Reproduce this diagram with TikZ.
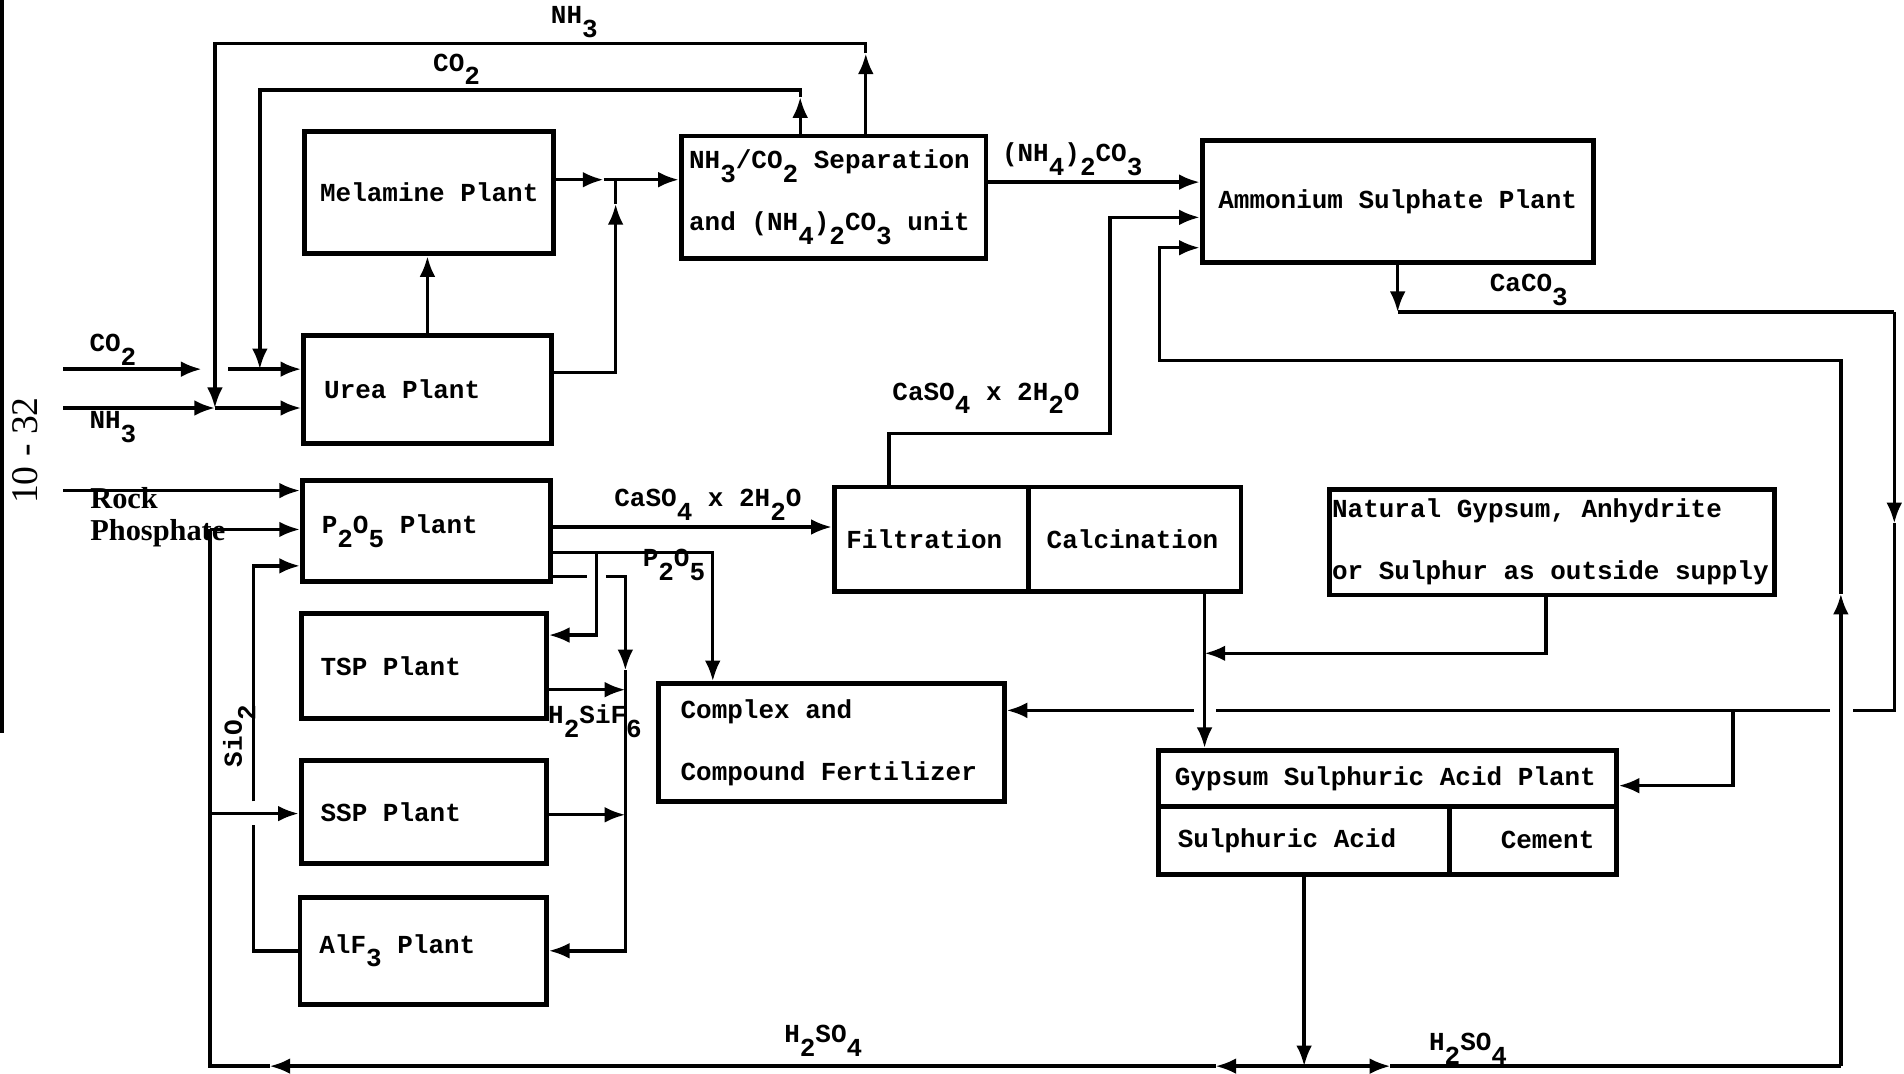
\documentclass[tikz,border=0pt]{standalone}
\usepackage{fontspec}
\setmainfont{Liberation Serif}
\setmonofont{Liberation Mono}
\usetikzlibrary{arrows.meta}
\newcommand{\subx}[1]{\raisebox{-1ex}{#1}}
\newcommand{\typed}{\ttfamily\bfseries}
\newcommand{\typedspace}{\spaceskip=6.42pt\relax\xspaceskip=6.42pt\relax}
\tikzstyle{plant}=[draw, line width=2pt, inner ysep=0pt, font={\typed\fontsize{10.7}{25.5}\selectfont}, execute at begin node={\typedspace}]
\tikzstyle{flow}=[line width=1.4pt]
\tikzstyle{lbl}=[inner sep=0pt, font={\typed\fontsize{10.7}{13}\selectfont}, execute at begin node={\typedspace}]
\tikzstyle{serif lbl}=[inner sep=0pt, align=left, font={\bfseries\fontsize{12.5}{13.5}\selectfont}]

\begin{document}
\begin{tikzpicture}[>={Latex[length=8.5pt,width=6.5pt]}, x=0.5pt, y=-0.5pt]
\useasboundingbox (0,0) rectangle (1568,884);

% plants
\node[plant, minimum width=102.5pt, minimum height=50.5pt] (mel) at (353.5,158.5) {Melamine Plant};
\node[plant, text width=85pt, inner xsep=8.5pt, align=left, minimum height=44.5pt] (urea) at (352,320.5) {Urea Plant};
\node[plant, text width=119pt, inner xsep=3.25pt, align=left, minimum height=50.5pt] (sep) at (686.5,162.5) {NH\subx{3}/CO\subx{2} Separation\\and (NH\subx{4})\subx{2}CO\subx{3} unit};
\node[plant, minimum width=161pt, minimum height=50pt] (amsul) at (1151,166) {Ammonium Sulphate Plant};
\node[plant, text width=86pt, inner xsep=8pt, align=left, minimum height=41.5pt] (pfive) at (351,437.5) {P\subx{2}O\subx{5} Plant};
\node[plant, text width=85pt, inner xsep=8pt, align=left, minimum height=43.5pt] (tsp) at (349,548.5) {TSP Plant};
\node[plant, text width=85pt, inner xsep=8pt, align=left, minimum height=42.5pt] (ssp) at (349,668.5) {SSP Plant};
\node[plant, text width=85.5pt, inner xsep=8pt, align=left, minimum height=44pt] (alf) at (348.5,783) {AlF\subx{3} Plant};
\node[plant, text width=70pt, inner xsep=5pt, align=left, minimum height=43pt] (filt) at (767,444) {Filtration};
\node[plant, text width=72.5pt, inner xsep=7.5pt, align=left, minimum height=43pt] (calc) at (934.5,444) {Calcination};
\node[plant, text width=181pt, inner xsep=1pt, align=left, minimum height=43.5pt] (natgyp) at (1278,446.5) {Natural Gypsum, Anhydrite\\or Sulphur as outside supply};
\node[plant, text width=124pt, inner xsep=9.25pt, align=left, minimum height=48.5pt] (cplx) at (684.5,611.5) {Complex and\\Compound Fertilizer};
\node[plant, text width=175pt, inner xsep=6.75pt, align=left, minimum height=23pt] (gsa) at (1142.5,641) {Gypsum Sulphuric Acid Plant};
\node[plant, text width=104pt, inner xsep=8pt, align=left, minimum height=28pt] (sulph) at (1074,692) {Sulphuric Acid};
\node[plant, text width=50.5pt, inner xsep=9pt, align=right, minimum height=28pt] (cement) at (1262.5,692) {Cement};

% labels
\node[lbl] (lNHtop) at (473,18) {NH\subx{3}};
\node[lbl] (lCOtop) at (376,57) {CO\subx{2}};
\node[lbl] (lCOin) at (93,288) {CO\subx{2}};
\node[lbl] (lNHin) at (93,352) {NH\subx{3}};
\node[serif lbl, anchor=west] (lRock) at (74,426) {Rock\\Phosphate};
\node[lbl] (lCarb) at (883,131) {(NH\subx{4})\subx{2}CO\subx{3}};
\node[lbl] (lGypUp) at (812,328) {CaSO\subx{4} x 2H\subx{2}O};
\node[lbl] (lCaCO) at (1259,239) {CaCO\subx{3}};
\node[lbl] (lGypLo) at (583,416) {CaSO\subx{4} x 2H\subx{2}O};
\node[lbl] (lPO) at (555,465) {P\subx{2}O\subx{5}};
\node[lbl] (lHSi) at (490,594) {H\subx{2}SiF\subx{6}};
\node[lbl, rotate=90] (lSi) at (197,606) {SiO\subx{2}};
\node[lbl] (lAcL) at (678,857) {H\subx{2}SO\subx{4}};
\node[lbl] (lAcR) at (1209,864) {H\subx{2}SO\subx{4}};
\node[inner sep=0pt, font={\fontsize{15.5}{15.5}\selectfont}, rotate=90] (page) at (21,371) {10 - 32};

\coordinate (edgeT) at (1.5,0);
\coordinate (edgeB) at (1.5,604);
\draw[line width=2pt] (edgeT) -- (edgeB);

% NH3 and CO2 recycle
\coordinate (nhUp) at (713,44);
\coordinate (nhTop) at (713,36);
\coordinate (nhLeft) at (177,36);
\coordinate (nhJ) at (177,336);
\coordinate (coUp) at (659,80);
\coordinate (coTop) at (659,74);
\coordinate (coLeft) at (214,74);
\coordinate (coJ) at (214,304);
\draw[flow,->] (sep.north -| nhUp) -- (nhUp);
\draw[flow,->] (nhUp) -- (nhTop) -- (nhLeft) -- (nhJ);
\draw[flow,->] (sep.north -| coUp) -- (coUp);
\draw[flow,->] (coUp) -- (coTop) -- (coLeft) -- (coJ);

% feeds
\coordinate (coIn) at (52,304);
\coordinate (coGapL) at (166,304);
\coordinate (coGapR) at (188,304);
\coordinate (nhIn) at (52,336);
\coordinate (rockIn) at (52,404);
\draw[flow,->] (coIn) -- (coGapL);
\draw[flow,->] (coGapR) -- (urea.west |- coIn);
\draw[flow,->] (nhIn) -- (nhJ);
\draw[flow,->] (nhJ) -- (urea.west |- nhJ);
\draw[flow,->] (rockIn) -- (pfive.west |- rockIn);

% urea, melamine, separation
\coordinate (melJ) at (507,148);
\coordinate (melA) at (497,148);
\coordinate (ureaJ) at (507,307);
\coordinate (ureaUp) at (507,168);
\coordinate (carbY) at (900,150);
\draw[flow,->] (urea.north) -- (urea.north |- mel.south);
\draw[flow,->] (mel.east |- melJ) -- (melA);
\draw[flow,->] (melA) -- (sep.west |- melJ);
\draw[flow,->] (urea.east |- ureaJ) -- (ureaJ) -- (ureaUp);
\draw[flow] (ureaUp) -- (melJ);
\draw[flow,->] (sep.east |- carbY) -- (amsul.west |- carbY);

% gypsum to ammonium sulphate
\coordinate (gypA) at (732,357);
\coordinate (gypB) at (914,357);
\coordinate (gypC) at (914,179);
\draw[flow,->] (filt.north -| gypA) -- (gypA) -- (gypB) -- (gypC) -- (amsul.west |- gypC);

% H2SO4 to ammonium sulphate
\coordinate (acR) at (1516,878);
\coordinate (acUp) at (1516,489);
\coordinate (acTop) at (1516,297);
\coordinate (acL) at (955,297);
\coordinate (acL2) at (955,204);
\draw[flow,->] (acR) -- (acUp);
\draw[flow,->] (acUp) -- (acTop) -- (acL) -- (acL2) -- (amsul.west |- acL2);

% CaCO3
\coordinate (caA) at (1151,257);
\coordinate (caB) at (1560,257);
\coordinate (caDn) at (1560,431);
\coordinate (caC) at (1560,585);
\coordinate (gapA) at (1526,585);
\coordinate (gapB) at (1507,585);
\coordinate (gapC) at (1001,585);
\coordinate (gapD) at (983,585);
\coordinate (caBr) at (1427,585);
\coordinate (caBr2) at (1427,647);
\draw[flow,->] (amsul.south) -- (caA);
\draw[flow] (caA) -- (caB);
\draw[flow,->] (caB) -- (caDn);
\draw[flow] (caDn) -- (caC) -- (gapA);
\draw[flow] (gapB) -- (gapC);
\draw[flow,->] (gapD) -- (cplx.east |- gapD);
\draw[flow,->] (caBr) -- (caBr2) -- (gsa.east |- caBr2);

% calcination and outside supply
\coordinate (natA) at (1273,538);
\coordinate (natB) at (992,538);
\coordinate (calcX) at (992,500);
\draw[flow,->] (natgyp.south -| natA) -- (natA) -- (natB);
\draw[flow,->] (calc.south -| calcX) -- (gsa.north -| calcX);

% phosphate plant outputs
\coordinate (cs) at (600,434);
\coordinate (pA) at (587,455);
\coordinate (pJ) at (491,455);
\coordinate (pB) at (491,523);
\coordinate (hA) at (515,475);
\coordinate (hG1) at (483,475);
\coordinate (hG2) at (499,475);
\coordinate (hDn) at (515,552);
\coordinate (hB) at (515,783);
\coordinate (tspO) at (515,568);
\coordinate (sspO) at (515,671);
\draw[flow,->] (pfive.east |- cs) -- (filt.west |- cs);
\draw[flow,->] (pfive.east |- pA) -- (pA) -- (cplx.north -| pA);
\draw[flow,->] (pJ) -- (pB) -- (tsp.east |- pB);
\draw[flow] (pfive.east |- hA) -- (hG1);
\draw[flow,->] (hG2) -- (hA) -- (hDn);
\draw[flow,->] (hDn) -- (hB) -- (alf.east |- hB);
\draw[flow,->] (tsp.east |- tspO) -- (tspO);
\draw[flow,->] (ssp.east |- sspO) -- (sspO);

% SiO2
\coordinate (siA) at (209,783);
\coordinate (siGap1) at (209,679);
\coordinate (siGap2) at (209,660);
\coordinate (siB) at (209,466);
\draw[flow] (alf.west |- siA) -- (siA) -- (siGap1);
\draw[flow,->] (siGap2) -- (siB) -- (pfive.west |- siB);

% H2SO4 return
\coordinate (gsaDn) at (1074,878);
\coordinate (acA1) at (1001,878);
\coordinate (acA2) at (222,878);
\coordinate (acA3) at (1145,878);
\coordinate (acLL) at (173,878);
\coordinate (acLT) at (173,436);
\coordinate (acSSP) at (173,670);
\draw[flow,->] (sulph.south) -- (gsaDn);
\draw[flow,->] (gsaDn) -- (acA1);
\draw[flow,->] (acA1) -- (acA2);
\draw[flow] (acA2) -- (acLL) -- (acLT);
\draw[flow,->] (acLT) -- (pfive.west |- acLT);
\draw[flow,->] (acSSP) -- (ssp.west |- acSSP);
\draw[flow,->] (gsaDn) -- (acA3);
\draw[flow] (acA3) -- (acR);
\end{tikzpicture}
\end{document}
